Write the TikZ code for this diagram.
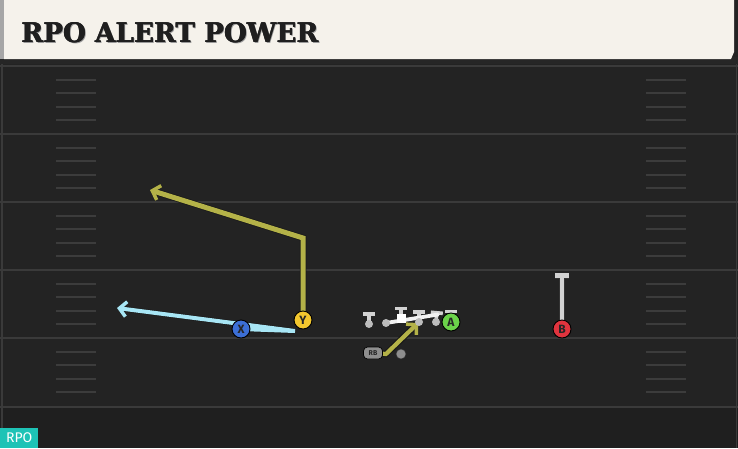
\documentclass[tikz,border=0pt]{standalone}
\usepackage{fontspec}
\usepackage{graphicx}
\usetikzlibrary{arrows.meta}
\newfontfamily\titlefont{DejaVu Serif}
\newfontfamily\labelfont{Fira Sans}
\definecolor{fieldc}{HTML}{232323}
\definecolor{fieldlow}{HTML}{1F1F1F}
\definecolor{yardc}{HTML}{3A3A3A}
\definecolor{hashc}{HTML}{3C3C3C}
\definecolor{creamc}{HTML}{F5F2EB}
\definecolor{olivec}{HTML}{B4B248}
\definecolor{lbluec}{HTML}{A8E6F5}
\definecolor{bluec}{HTML}{3C6FD6}
\definecolor{yellowc}{HTML}{F3C72E}
\definecolor{greenc}{HTML}{6BD24A}
\definecolor{redc}{HTML}{E0343E}
\definecolor{blockc}{HTML}{D2D2D2}
\definecolor{dotc}{HTML}{BDBDBD}
\definecolor{rbc}{HTML}{8E8E8E}
\definecolor{tealc}{HTML}{1EC3B6}
\pgfdeclarelayer{fieldlayer}
\pgfdeclarelayer{routelayer}
\pgfsetlayers{fieldlayer,routelayer,main}
\newcommand{\ttl}{\resizebox{297pt}{20pt}{\titlefont\bfseries RPO ALERT POWER}}
\tikzset{
  yard/.style={draw=yardc, line width=2pt},
  hash/.style={draw=hashc, line width=2pt},
  player/.style={circle, draw=black, line width=0.9pt, minimum size=18pt, inner sep=0pt,
    font=\labelfont\bfseries\fontsize{12}{12}\selectfont, text=black!85},
  route/.style={line width=5pt, line join=miter,
    preaction={draw=black!90, line width=6.5pt}},
  thinroute/.style={line width=4pt, line join=miter,
    preaction={draw=black!90, line width=5.2pt}},
  chev/.style={-{Straight Barb[length=7pt,width=15pt,line width=3.5pt]}},
  block/.style={draw=blockc, line width=3.6pt, -{Bar[width=12pt]}},
  bigblock/.style={draw=blockc, line width=4.5pt, -{Bar[width=14pt]},
    preaction={draw=black!80, line width=5.5pt}},
  oldot/.style={circle, fill=dotc, minimum size=8pt, inner sep=0pt},
  pull/.style={draw=white!95!black, line width=3.8pt, line cap=round},
  ttlnode/.style={anchor=base west, inner sep=0pt},
}
\begin{document}
\begin{tikzpicture}[x=1pt,y=-1pt]
\useasboundingbox (0,0) rectangle (738,448);
\begin{pgfonlayer}{fieldlayer}
  \fill[fieldc] (0,0) rectangle (738,448);
  \fill[fieldlow] (0,408) rectangle (738,448);
  \foreach \yy in {66,134,202,270,338,407} \draw[yard] (0,\yy) -- (738,\yy);
  \foreach \yy in {66,134,202,270,338} {
    \foreach \dd in {13.5,27,40.5,54} {
      \draw[hash] (56,\yy+\dd) -- (96,\yy+\dd);
      \draw[hash] (646,\yy+\dd) -- (686,\yy+\dd);
    }
  }
  \draw[yardc, line width=2pt] (1.5,62) -- (1.5,448);
  \draw[yardc, line width=1.5pt] (736.5,62) -- (736.5,448);
  % title bar
  \fill[black!85] (0,57) rectangle (738,64);
  \fill[creamc] (4,0) -- (734,0) -- (734,52) -- (731,59) -- (4,59) -- cycle;
  \fill[black!35] (0,0) rectangle (4,59);
\end{pgfonlayer}
% title (shadow, then bold stack)
\node[ttlnode, text=black!40] (titleshadow) at (22.2,43.2) {\ttl};
\node[ttlnode, text=black!88] (titleA) at (21.6,42) {\ttl};
\node[ttlnode, text=black!88] (titleB) at (21,42.4) {\ttl};
\node[ttlnode, text=black!88] (title) at (21,42) {\ttl};
% players
\node[player, fill=bluec] (X) at (241,329) {X};
\node[player, fill=yellowc] (Y) at (303,320) {Y};
\node[player, fill=greenc] (A) at (451,322) {A};
\node[player, fill=redc] (B) at (562,329) {B};
\node[draw=black, line width=0.7pt, fill=rbc, rounded corners=4pt, minimum width=19pt,
  minimum height=12pt, inner sep=0pt, text=black!85,
  font=\labelfont\bfseries\fontsize{7}{7}\selectfont] (RB) at (373,353) {RB};
\node[circle, fill=rbc, draw=black!80, line width=0.5pt, minimum size=10pt, inner sep=0pt] (QB) at (401,354) {};
% offensive line
\node[oldot] (LT) at (369,324) {};
\node[oldot] (LG) at (386,323) {};
\node[oldot] (RG) at (419,322) {};
\node[oldot] (RT) at (436,322) {};
\node[fill=white, minimum size=9pt, inner sep=0pt] (C) at (401,318) {};
\coordinate (LTb) at (369,312);
\coordinate (Cb) at (401,306.5);
\coordinate (RGb) at (419,310);
\coordinate (RTb) at (437,311);
\coordinate (Ab) at (451,309.5);
\coordinate (pullend) at (438,314.5);
\begin{pgfonlayer}{routelayer}
  \draw[block] (LT.center) -- (LTb);
  \draw[block] (C.center) -- (Cb);
  \draw[block] (RG.center) -- (RGb);
  \draw[block] (RT.center) -- (RTb);
  \draw[block] (A.center) -- (Ab);
  \draw[pull] (LG.center) -- (pullend);
  % B block
  \coordinate (b1) at (562,273);
  \draw[bigblock] (B.center) -- (b1);
  % Y route
  \coordinate (y1) at (303,238);
  \coordinate (y2) at (150,190);
  \draw[route, olivec, chev] (Y.center) -- (y1) -- (y2);
  % X route
  \coordinate (x1) at (295,331);
  \coordinate (x2) at (117,308);
  \draw[thinroute, lbluec, chev] (X.center) -- (x1) -- (x2);
  % RB route
  \coordinate (r1) at (386,354);
  \coordinate (r2) at (418,323);
  \draw[route, olivec, chev, line width=4.2pt] (RB.center) -- (r1) -- (r2);
\end{pgfonlayer}
% RPO tag
\node[fill=tealc, text=white, anchor=south west, minimum width=38pt, minimum height=20pt,
  inner sep=0pt, font=\labelfont\fontsize{14}{14}\selectfont] (tag) at (0,448) {RPO};
\end{tikzpicture}
\end{document}
